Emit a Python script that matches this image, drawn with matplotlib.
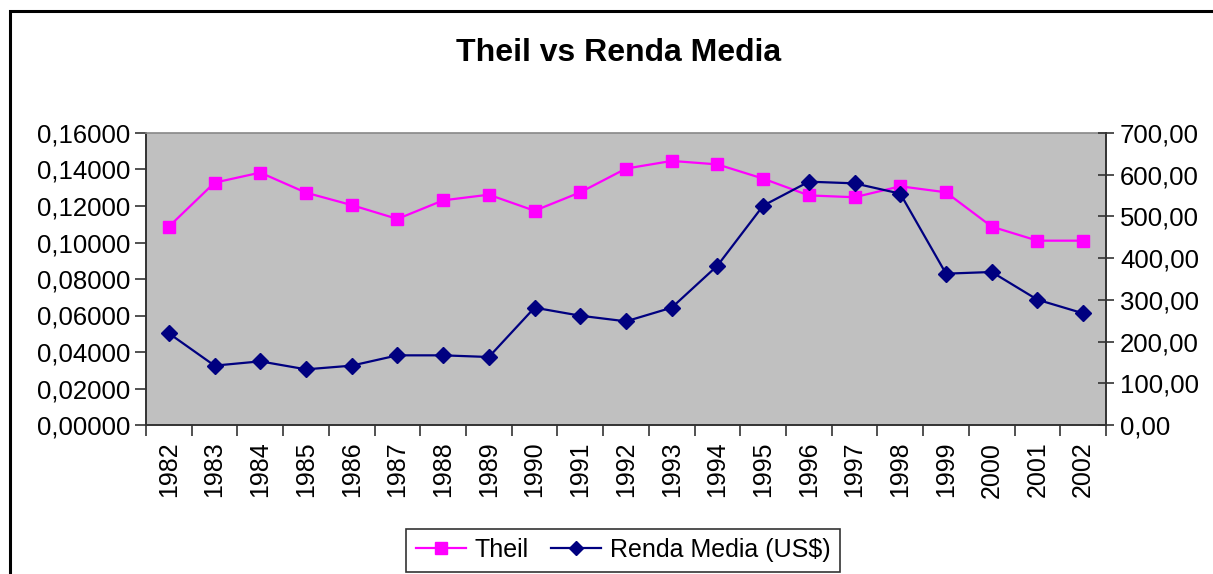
import matplotlib

matplotlib.use("Agg")
import matplotlib.pyplot as plt
from matplotlib.lines import Line2D
from matplotlib.patches import Rectangle
from matplotlib.ticker import FixedLocator, FuncFormatter

years = [str(y) for y in range(1982, 2003)]
theil = [
    0.1087, 0.1328, 0.1383, 0.1273, 0.1205, 0.1129, 0.1231,
    0.1262, 0.1174, 0.1275, 0.1405, 0.1447, 0.1428, 0.1350,
    0.1258, 0.1248, 0.1308, 0.1275, 0.1087, 0.1010, 0.1010,
]
renda = [
    219.8, 142.3, 152.6, 133.4, 142.3, 167.0, 167.0,
    163.0, 281.3, 262.0, 248.5, 281.3, 382.0, 525.8,
    583.3, 579.3, 554.6, 362.8, 366.8, 300.4, 267.7,
]
theil_ticks = [0.0, 0.02, 0.04, 0.06, 0.08, 0.10, 0.12, 0.14, 0.16]
renda_ticks = [0, 100, 200, 300, 400, 500, 600, 700]

plt.rcParams["font.family"] = ["Liberation Sans", "DejaVu Sans"]

W, H = 1213, 574
fig = plt.figure(figsize=(W / 100, H / 100), dpi=100)
fig.patch.set_facecolor("white")

# outer chart border (runs off the right and bottom of the picture)
fig.patches.append(
    Rectangle(
        (9.5 / W, -0.2), 2.0, (H - 11.5) / H + 0.2,
        transform=fig.transFigure, fill=False,
        edgecolor="black", linewidth=2.2, clip_on=False,
    )
)

ax = fig.add_axes([146 / W, 1 - 425 / H, (1106 - 146) / W, (425 - 133) / H])
ax.set_facecolor("#C0C0C0")
x = list(range(len(years)))

ax.plot(x, theil, color="#FF00FF", linewidth=1.6, marker="s",
        markersize=9, markerfacecolor="#FF00FF", markeredgecolor="#FF00FF",
        zorder=3)
ax.set_xlim(-0.5, len(years) - 0.5)
ax.set_ylim(0, 0.16)
ax.yaxis.set_major_locator(FixedLocator(theil_ticks))
ax.yaxis.set_major_formatter(
    FuncFormatter(lambda v, p: f"{v:.5f}".replace(".", ","))
)

ax.set_xticks(x)
ax.set_xticklabels(years, rotation=90, fontsize=18)
ax.xaxis.set_minor_locator(FixedLocator([i - 0.5 for i in range(len(years) + 1)]))
ax.tick_params(axis="x", which="major", length=0, pad=12)
ax.tick_params(axis="x", which="minor", length=8, width=1.2, color="#333333")
ax.tick_params(axis="y", length=8, width=1.2, color="#333333",
               labelsize=18.5, pad=3)

for side in ["left", "bottom"]:
    ax.spines[side].set_color("#333333")
    ax.spines[side].set_linewidth(1.4)
ax.spines["top"].set_color("#888888")
ax.spines["top"].set_linewidth(1.2)
ax.spines["right"].set_visible(False)

ax2 = ax.twinx()
ax2.plot(x, renda, color="#000080", linewidth=1.6, marker="D",
         markersize=8, markerfacecolor="#000080", markeredgecolor="#000080",
         zorder=3)
ax2.set_ylim(0, 700)
ax2.yaxis.set_major_locator(FixedLocator(renda_ticks))
ax2.yaxis.set_major_formatter(
    FuncFormatter(lambda v, p: f"{v:.2f}".replace(".", ","))
)
ax2.tick_params(axis="y", direction="inout", length=12, width=1.2,
                color="#333333", labelsize=18.5, pad=4)
ax2.spines["right"].set_color("#333333")
ax2.spines["right"].set_linewidth(1.4)
for side in ["left", "top", "bottom"]:
    ax2.spines[side].set_visible(False)

fig.text(619 / W, 1 - 53 / H, "Theil vs Renda Media",
         ha="center", va="center", fontsize=23, fontweight="bold")

handles = [
    Line2D([], [], color="#FF00FF", linewidth=1.6, marker="s", markersize=8),
    Line2D([], [], color="#000080", linewidth=1.6, marker="D", markersize=7),
]
leg = fig.legend(
    handles, ["Theil", "Renda Media (US$)"],
    loc="center", bbox_to_anchor=(623 / W, 1 - 550 / H),
    ncol=2, fontsize=18, frameon=True, fancybox=False,
    edgecolor="black", handlelength=2.0, columnspacing=0.9,
    handletextpad=0.35, borderpad=0.38, borderaxespad=0.0,
)
leg.get_frame().set_linewidth(1.2)

fig.savefig("out.png", dpi=100)
